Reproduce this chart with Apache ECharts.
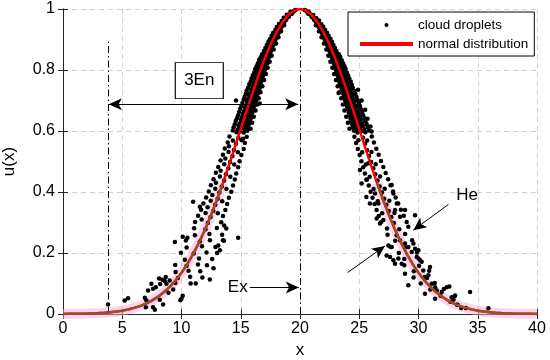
<!DOCTYPE html>
<html><head><meta charset="utf-8">
<script src="https://cdn.jsdelivr.net/npm/echarts@6/dist/echarts.min.js"></script>
<style>html,body{margin:0;padding:0;background:#fff}#c{width:550px;height:360px}</style>
</head><body><div id="c"></div>
<script>
const xTicks = [0,5,10,15,20,25,30,35,40];
const yTicks = [0,0.2,0.4,0.6,0.8,1];
const curveX = [0,0.5,1,1.5,2,2.5,3,3.5,4,4.5,5,5.5,6,6.5,7,7.5,8,8.5,9,9.5,10,10.5,11,11.5,12,12.5,13,13.5,14,14.5,15,15.5,16,16.5,17,17.5,18,18.5,19,19.5,20,
  20.5,21,21.5,22,22.5,23,23.5,24,24.5,25,25.5,26,26.5,27,27.5,28,28.5,29,29.5,30,30.5,31,31.5,32,32.5,33,33.5,34,34.5,35,35.5,36,36.5,37,37.5,38,38.5,39,39.5,40];
const curveY = [0.0003,0.0005,0.0007,0.0011,0.0015,0.0022,0.0031,0.0043,0.006,0.0082,0.011,0.015,0.020,0.026,0.034,0.044,0.056,0.071,0.089,0.110,0.135,0.164,0.198,0.236,0.278,0.325,0.375,0.430,0.487,0.546,0.607,0.667,0.726,0.783,0.835,0.882,0.923,0.956,0.980,0.995,1,
  0.995,0.980,0.956,0.923,0.882,0.835,0.783,0.726,0.667,0.607,0.546,0.487,0.430,0.375,0.325,0.278,0.236,0.198,0.164,0.135,0.110,0.089,0.071,0.056,0.044,0.034,0.026,0.020,0.015,0.011,0.0082,0.006,0.0043,0.0031,0.0022,0.0015,0.0011,0.0007,0.0005,0.0003];

const leftDroplets = [
[19.55,0.995],[19.47,0.993],[19.62,0.997],[19.36,0.99],[19.27,0.988],[19.2,0.991],
[19.12,0.982],[19.0,0.979],[18.88,0.981],[18.9,0.972],[18.78,0.969],[18.63,0.971],
[18.73,0.962],[18.55,0.958],[18.45,0.961],[18.58,0.952],[18.38,0.949],[18.22,0.951],
[18.44,0.942],[18.25,0.939],[18.05,0.941],[18.3,0.931],[18.12,0.928],[17.93,0.932],
[18.18,0.921],[17.95,0.919],[17.74,0.922],[18.04,0.911],[17.85,0.908],[17.6,0.912],
[17.95,0.902],[17.7,0.899],[17.45,0.901],[17.84,0.891],[17.58,0.888],[17.33,0.892],
[17.74,0.881],[17.48,0.879],[17.2,0.882],[17.6,0.871],[17.35,0.868],[17.08,0.872],
[17.53,0.861],[17.25,0.858],[16.95,0.862],
[17.5,0.851],[17.12,0.848],[16.8,0.852],[17.38,0.841],[17.06,0.838],[16.68,0.842],
[17.3,0.831],[16.94,0.829],[16.55,0.833],[17.25,0.821],[16.86,0.818],[16.45,0.822],
[17.12,0.811],[16.74,0.808],[16.34,0.812],[17.05,0.801],[16.68,0.798],[16.22,0.803],
[16.95,0.791],[16.55,0.789],[16.14,0.792],[16.88,0.781],[16.46,0.778],[16.02,0.783],
[16.84,0.771],[16.4,0.768],[15.92,0.773],[16.72,0.761],[16.28,0.758],[15.84,0.762],
[16.65,0.751],[16.2,0.748],[15.72,0.753],[16.6,0.741],[16.1,0.738],[15.62,0.742],
[16.5,0.731],[16.05,0.728],[15.5,0.733],[16.42,0.721],[15.96,0.718],[15.43,0.722],
[16.35,0.711],[15.84,0.708],[15.33,0.712],[16.3,0.701],[15.76,0.698],[15.25,0.703],
[16.2,0.691],[15.7,0.688],[15.14,0.692],[16.12,0.681],[15.62,0.678],[15.05,0.682],
[16.05,0.671],[15.5,0.668],[14.96,0.673],[15.98,0.661],[15.45,0.658],[14.86,0.662],
[15.9,0.651],[15.35,0.648],[14.78,0.652],[15.84,0.641],[15.27,0.638],[14.68,0.642],
[15.78,0.631],[15.2,0.628],[14.58,0.633],[15.68,0.621],[15.1,0.618],[14.5,0.622],
[15.62,0.611],[15.02,0.608],[14.4,0.612],[15.55,0.601],[14.94,0.598],[14.32,0.602],
[16.6,0.69],[14.6,0.7],
[19.33,0.985],[19.25,0.984],[19.06,0.975],[18.94,0.976],[18.84,0.965],[18.7,0.964],
[18.66,0.955],[18.48,0.956],[18.5,0.945],[18.3,0.944],[18.35,0.935],[18.13,0.936],
[18.21,0.925],[17.99,0.924],[18.08,0.915],[17.84,0.916],[17.96,0.905],[17.7,0.904],
[17.84,0.895],[17.56,0.896],[17.73,0.885],[17.45,0.884],[17.62,0.875],[17.32,0.876],
[17.52,0.865],[17.2,0.864],[17.42,0.855],[17.09,0.856],[17.32,0.845],[16.98,0.844],
[17.23,0.835],[16.87,0.836],[17.13,0.825],[16.77,0.824],[17.04,0.815],[16.66,0.816],
[16.95,0.805],[16.55,0.804],[16.86,0.795],[16.46,0.796],[16.78,0.785],[16.36,0.784],
[16.69,0.775],[16.27,0.776],[16.61,0.765],[16.17,0.764],[16.52,0.755],[16.08,0.756],
[16.44,0.745],[15.98,0.744],[16.35,0.735],[15.89,0.736],[16.27,0.725],[15.79,0.724],
[16.19,0.715],[15.71,0.716],[16.11,0.705],[15.61,0.704],[16.03,0.695],[15.53,0.696],
[15.95,0.685],[15.43,0.684],[15.87,0.675],[15.35,0.676],[15.8,0.665],[15.26,0.664],
[15.71,0.655],[15.17,0.656],[15.64,0.645],[15.08,0.644],[15.56,0.635],[15.0,0.636],
[15.48,0.625],[14.9,0.624],[15.4,0.615],[14.82,0.616],[15.33,0.605],[14.73,0.604],
[15.25,0.595],[14.65,0.596],
[18.66,0.947],[18.4,0.927],[18.18,0.907],[17.98,0.887],[17.78,0.867],[17.61,0.847],
[17.44,0.827],[17.27,0.807],[17.12,0.787],[16.97,0.767],[16.82,0.747],[16.67,0.727],
[16.52,0.707],[16.38,0.687],[16.25,0.667],[16.1,0.647],[15.96,0.627],[15.83,0.607],
[15.5,0.581],[14.8,0.578],[14.05,0.582],[15.2,0.575],[15.35,0.561],[14.6,0.558],[13.9,0.562],
[15.25,0.541],[14.42,0.538],[13.65,0.543],[14.0,0.55],[15.05,0.521],[14.3,0.518],[13.5,0.522],
[14.9,0.501],[14.1,0.498],[13.3,0.503],[13.7,0.51],[14.78,0.481],[13.95,0.478],[13.1,0.482],
[14.62,0.461],[13.75,0.458],[12.9,0.463],[13.3,0.47],[14.5,0.441],[13.6,0.438],[12.7,0.442],
[14.35,0.421],[13.4,0.418],[12.48,0.422],[12.9,0.43],[14.2,0.401],[13.2,0.398],[12.3,0.402],
[14.0,0.381],[13.05,0.378],[12.08,0.382],[12.6,0.39],[13.85,0.361],[12.85,0.358],[11.85,0.362],
[13.7,0.341],[12.68,0.338],[11.65,0.342],[12.2,0.35],[13.5,0.321],[12.45,0.318],[11.4,0.322],
[13.35,0.301],[12.22,0.298],[11.15,0.302],[11.7,0.31],
[15.07,0.57],[14.33,0.569],[14.76,0.53],[13.97,0.531],[14.45,0.49],[13.61,0.491],
[14.12,0.45],[13.24,0.451],[13.79,0.41],[12.85,0.411],[13.44,0.37],[12.46,0.371],
[13.07,0.33],[12.03,0.331],
[13.78,0.28],[12.98,0.282],[12.02,0.278],[11.06,0.281],[13.43,0.26],[12.36,0.262],[11.13,0.258],
[13.58,0.24],[12.4,0.242],[11.55,0.238],[10.37,0.241],[12.87,0.22],[11.73,0.222],[10.43,0.218],
[13.0,0.2],[12.11,0.202],[11.03,0.198],[9.95,0.201],[12.59,0.18],[11.48,0.182],[10.28,0.178],
[12.15,0.16],[11.39,0.162],[10.43,0.158],[9.47,0.161],[11.58,0.14],[10.59,0.142],[9.5,0.138],
[11.76,0.12],[10.73,0.122],[9.7,0.118],[8.67,0.121],[10.77,0.1],[9.48,0.102],[8.2,0.098],
[10.1,0.253],[10.5,0.25],[9.44,0.236],[10.98,0.368],[11.55,0.352],[14.78,0.25],[12.39,0.113],
[13.24,0.209],[13.1,0.225],[13.5,0.242],[9.0,0.11],[10.0,0.05],[10.1,0.06],[9.9,0.045],
[13.6,0.29],[12.7,0.15],[11.2,0.1],
[5.21,0.044],[5.49,0.052],[6.9,0.053],[7.04,0.044],[6.99,0.022],[7.6,0.022],[7.75,0.014],
[8.45,0.031],[8.17,0.047],[7.18,0.077],[7.6,0.083],[7.83,0.088],[7.46,0.099],[8.39,0.112],
[8.11,0.116],[8.59,0.108],[8.73,0.099],[3.8,0.031],[8.9,0.07],[9.3,0.08]
];

const rightDroplets = [
[20.45,0.996],[20.55,0.993],[20.38,0.997],[20.66,0.989],[20.74,0.991],[20.8,0.987],
[20.92,0.981],[21.02,0.978],[21.12,0.98],[21.1,0.971],[21.25,0.968],[21.38,0.97],
[21.3,0.961],[21.45,0.959],[21.6,0.962],[21.45,0.951],[21.62,0.948],[21.8,0.95],
[21.58,0.941],[21.78,0.939],[21.96,0.942],[21.72,0.931],[21.92,0.928],[22.12,0.932],
[21.85,0.921],[22.05,0.918],[22.28,0.922],[21.96,0.911],[22.2,0.908],[22.42,0.912],
[22.08,0.901],[22.32,0.898],[22.58,0.902],[22.18,0.891],[22.43,0.888],[22.7,0.892],
[22.3,0.881],[22.55,0.878],[22.82,0.882],[22.4,0.871],[22.66,0.868],[22.95,0.872],
[22.5,0.861],[22.78,0.858],[23.08,0.862],
[22.57,0.851],[22.93,0.848],[23.28,0.852],[22.68,0.841],[23.01,0.838],[23.4,0.843],
[22.74,0.831],[23.12,0.828],[23.52,0.832],[22.86,0.821],[23.2,0.818],[23.63,0.822],
[22.92,0.811],[23.33,0.808],[23.76,0.812],[23.03,0.801],[23.4,0.798],[23.85,0.803],
[23.08,0.791],[23.52,0.788],[23.95,0.792],[23.18,0.781],[23.58,0.778],[24.06,0.782],
[23.26,0.771],[23.7,0.768],[24.16,0.772],[23.32,0.761],[23.78,0.758],[24.28,0.762],
[23.42,0.751],[23.86,0.748],[24.37,0.752],[23.5,0.741],[23.97,0.738],[24.46,0.742],
[23.56,0.731],[24.06,0.728],[24.58,0.732],[23.66,0.721],[24.12,0.718],[24.67,0.722],
[23.72,0.711],[24.23,0.708],[24.77,0.712],[23.81,0.701],[24.3,0.698],[24.86,0.702],
[23.87,0.691],[24.41,0.688],[24.97,0.692],[23.96,0.681],[24.48,0.678],[25.06,0.682],
[24.01,0.671],[24.57,0.668],[25.13,0.672],[24.11,0.661],[24.64,0.658],[25.25,0.662],
[24.17,0.651],[24.74,0.648],[25.33,0.652],[24.26,0.641],[24.8,0.638],[25.44,0.642],
[24.32,0.631],[24.92,0.628],[25.52,0.632],[24.41,0.621],[24.98,0.618],[25.63,0.622],
[24.46,0.611],[25.08,0.608],[25.71,0.612],[24.56,0.601],[25.14,0.598],[25.82,0.602],
[24.9,0.735],[25.2,0.7],[25.5,0.67],[25.7,0.64],[25.95,0.615],[23.25,0.725],[26.05,0.598],
[20.68,0.985],[20.77,0.984],[20.97,0.975],[21.1,0.976],[21.18,0.965],[21.34,0.964],
[21.37,0.955],[21.56,0.956],[21.54,0.945],[21.74,0.944],[21.69,0.935],[21.92,0.936],
[21.82,0.925],[22.07,0.924],[21.96,0.915],[22.22,0.916],[22.08,0.905],[22.37,0.904],
[22.21,0.895],[22.51,0.896],[22.31,0.885],[22.63,0.884],[22.43,0.875],[22.76,0.876],
[22.53,0.865],[22.88,0.864],[22.64,0.855],[23.0,0.856],[22.74,0.845],[23.11,0.844],
[22.83,0.835],[23.22,0.836],[22.93,0.825],[23.32,0.824],[23.02,0.815],[23.43,0.816],
[23.12,0.805],[23.54,0.804],[23.21,0.795],[23.64,0.796],[23.29,0.785],[23.74,0.784],
[23.38,0.775],[23.84,0.776],[23.47,0.765],[23.93,0.764],[23.55,0.755],[24.03,0.756],
[23.64,0.745],[24.13,0.744],[23.72,0.735],[24.23,0.736],[23.81,0.725],[24.33,0.724],
[23.89,0.715],[24.41,0.716],[23.97,0.705],[24.51,0.704],[24.05,0.695],[24.6,0.696],
[24.14,0.685],[24.7,0.684],[24.21,0.675],[24.79,0.676],[24.29,0.665],[24.87,0.664],
[24.38,0.655],[24.97,0.656],[24.45,0.645],[25.06,0.644],[24.53,0.635],[25.15,0.636],
[24.62,0.625],[25.24,0.624],[24.69,0.615],[25.33,0.616],[24.77,0.605],[25.42,0.604],
[24.85,0.595],[25.51,0.596],
[21.34,0.947],[21.6,0.927],[21.82,0.907],[22.02,0.887],[22.22,0.867],[22.39,0.847],
[22.56,0.827],[22.73,0.807],[22.88,0.787],[23.03,0.767],[23.18,0.747],[23.33,0.727],
[23.48,0.707],[23.62,0.687],[23.75,0.667],[23.9,0.647],[24.04,0.627],[24.17,0.607],
[24.59,0.581],[25.32,0.578],[26.06,0.582],[24.73,0.561],[25.49,0.558],[26.24,0.562],
[24.88,0.541],[25.66,0.538],[26.44,0.542],[25.03,0.521],[25.83,0.518],[26.64,0.522],
[25.18,0.501],[26.01,0.498],[26.83,0.502],[25.33,0.481],[26.18,0.478],[27.03,0.482],
[25.48,0.461],[26.35,0.458],[27.23,0.462],[25.64,0.441],[26.54,0.438],[27.44,0.442],
[25.8,0.421],[26.72,0.418],[27.64,0.422],[25.96,0.401],[26.91,0.398],[27.85,0.402],
[26.12,0.381],[27.1,0.378],[28.07,0.382],[26.29,0.361],[27.29,0.358],[28.29,0.362],
[26.46,0.341],[27.49,0.338],[28.51,0.342],[26.64,0.321],[27.7,0.318],[28.76,0.322],
[26.83,0.301],[27.92,0.298],[29.0,0.302],
[24.93,0.57],[25.67,0.569],[25.24,0.53],[26.03,0.531],[25.55,0.49],[26.39,0.491],
[25.88,0.45],[26.76,0.451],[26.21,0.41],[27.15,0.411],[26.56,0.37],[27.54,0.371],
[26.93,0.33],[27.97,0.331],
[25.06,0.472],[25.77,0.494],[25.2,0.428],[25.6,0.44],[26.33,0.395],[26.61,0.362],[25.9,0.362],
[25.6,0.384],[26.47,0.313],[26.75,0.297],[27.03,0.308],[28.02,0.341],[28.16,0.362],[28.44,0.319],
[28.86,0.341],[29.71,0.324],[27.88,0.395],[27.74,0.423],
[27.46,0.225],[27.31,0.192],[27.6,0.187],[27.88,0.176],[28.02,0.165],[28.3,0.182],[28.58,0.165],
[28.86,0.132],[29.14,0.22],[28.86,0.231],[29.43,0.203],[29.57,0.231],[29.71,0.214],[29.99,0.209],
[29.85,0.187],[30.13,0.176],[30.27,0.171],[30.41,0.143],[30.97,0.154],[30.55,0.121],[30.83,0.127],
[31.12,0.099],[31.4,0.088],[31.54,0.077],[31.96,0.072],[32.38,0.088],[32.8,0.055],[33.09,0.061],
[32.95,0.047],[34.35,0.072],[29.14,0.094],[30.55,0.066],[31.4,0.05],[29.14,0.286],[28.44,0.242],
[28.16,0.258],[27.74,0.22],[33.3,0.03],[33.6,0.02],[35.9,0.019],[32.6,0.09],
[27.34,0.28],[28.38,0.278],[27.39,0.26],[28.87,0.262],[28.03,0.24],[29.46,0.242],[27.66,0.22],
[28.87,0.218],[28.34,0.2],[29.87,0.202],[28.8,0.18],[30.0,0.182],[28.8,0.16],[30.05,0.158],
[29.61,0.14],[30.9,0.142],[29.58,0.12],[30.71,0.118],[30.19,0.1],[31.37,0.102],[31.0,0.08],
[32.14,0.082],[31.86,0.06],[33.05,0.058],[32.69,0.04],[33.24,0.03],[33.99,0.02]
];

const FONT = 'Liberation Sans, Arial, Helvetica, sans-serif';
const AX = '#262626';
const LOW = 0.45;
const curveData = curveX.map((x, i) => [x, curveY[i]]);
const lowCurve = curveX.map((x, i) => curveY[i] < LOW ? [x, curveY[i]] : [x, '-']);

const chart = echarts.init(document.getElementById('c'), null, {renderer: 'canvas'});
const dashDot = [7, 3, 1.5, 3];
chart.setOption({
  animation: false,
  textStyle: {fontFamily: FONT},
  grid: {left: 63, right: 13, top: 9, bottom: 46, containLabel: false, outerBoundsMode: 'none'},
  legend: {
    left: 348, top: 12, orient: 'vertical',
    itemWidth: 53, itemHeight: 4, itemGap: 5,
    padding: [6, 6, 5, 12],
    borderColor: '#000', borderWidth: 1, backgroundColor: '#fff',
    textStyle: {fontSize: 13.5, color: '#000', fontFamily: FONT},
    data: [
      {name: 'cloud droplets', icon: 'circle', itemStyle: {color: '#000'}},
      {name: 'normal distribution', icon: 'rect', itemStyle: {color: '#ff0000'}}
    ]
  },
  xAxis: [{
    type: 'value', min: xTicks[0], max: xTicks[xTicks.length - 1], interval: xTicks[1] - xTicks[0],
    name: 'x', nameLocation: 'middle', nameGap: 27,
    nameTextStyle: {fontSize: 17, color: '#000', fontFamily: FONT},
    axisLine: {show: true, lineStyle: {color: AX, width: 1}},
    axisTick: {show: true, inside: true, length: 5, lineStyle: {color: AX}},
    axisLabel: {fontSize: 16, color: '#000', margin: 7, fontFamily: FONT},
    splitLine: {show: true, lineStyle: {color: '#d2d2d2', type: [5, 4], width: 1}}
  }, {
    type: 'value', position: 'top', min: xTicks[0], max: xTicks[xTicks.length - 1], interval: xTicks[1] - xTicks[0],
    axisLine: {show: true, lineStyle: {color: AX, width: 1}},
    axisTick: {show: true, inside: true, length: 5, lineStyle: {color: AX}},
    axisLabel: {show: false}, splitLine: {show: false}
  }],
  yAxis: [{
    type: 'value', min: yTicks[0], max: yTicks[yTicks.length - 1], interval: yTicks[1] - yTicks[0],
    name: 'u(x)', nameLocation: 'middle', nameGap: 45,
    nameTextStyle: {fontSize: 17, color: '#000', fontFamily: FONT},
    axisLine: {show: true, lineStyle: {color: AX, width: 1}},
    axisTick: {show: true, inside: true, length: 5, lineStyle: {color: AX}},
    axisLabel: {fontSize: 16, color: '#000', margin: 8, fontFamily: FONT},
    splitLine: {show: true, lineStyle: {color: '#d2d2d2', type: [5, 4], width: 1}}
  }, {
    type: 'value', position: 'right', min: yTicks[0], max: yTicks[yTicks.length - 1], interval: yTicks[1] - yTicks[0],
    axisLine: {show: true, lineStyle: {color: AX, width: 1}},
    axisTick: {show: true, inside: true, length: 5, lineStyle: {color: AX}},
    axisLabel: {show: false}, splitLine: {show: false}
  }],
  series: [
    {
      name: 'haze', type: 'line', data: lowCurve, smooth: false, showSymbol: false, silent: true,
      connectNulls: false, lineStyle: {width: 10, color: 'rgba(248,170,228,0.5)'}, z: 1
    },
    {
      name: 'cloud droplets', type: 'scatter', data: leftDroplets.concat(rightDroplets),
      symbol: 'circle', symbolSize: 4.5, itemStyle: {color: '#000', opacity: 1}, z: 3, silent: true,
      markLine: {
        silent: true, animation: false, symbolSize: [9, 13],
        label: {show: false},
        lineStyle: {color: '#000', width: 1, type: 'solid'},
        emphasis: {disabled: true},
        data: [
          [{coord: [3.85, 0], symbol: 'none', lineStyle: {type: dashDot, color: '#000', width: 1}}, {coord: [3.85, 0.9], symbol: 'none'}],
          [{coord: [20, 0], symbol: 'none', lineStyle: {type: dashDot, color: '#000', width: 1}}, {coord: [20, 1], symbol: 'none'}],
          [{coord: [3.87, 0.688], symbol: 'arrow'}, {coord: [19.85, 0.688], symbol: 'arrow'}],
          [{coord: [15.77, 0.087], symbol: 'none'}, {coord: [19.9, 0.087], symbol: 'arrow'}],
          [{coord: [32.52, 0.359], symbol: 'none'}, {coord: [29.56, 0.275], symbol: 'arrow'}],
          [{coord: [24.02, 0.136], symbol: 'none'}, {coord: [27.17, 0.223], symbol: 'arrow'}]
        ]
      },
      markPoint: {
        silent: true, animation: false,
        data: [
          {coord: [11.5, 0.765], symbol: 'rect', symbolSize: [48, 36],
           itemStyle: {color: '#fff', borderColor: '#000', borderWidth: 1},
           label: {show: true, position: 'inside', formatter: '3En', fontSize: 17, color: '#000', fontFamily: FONT}},
          {coord: [14.75, 0.087], symbol: 'circle', symbolSize: 1, itemStyle: {color: 'rgba(0,0,0,0)'},
           label: {show: true, position: 'inside', formatter: 'Ex', fontSize: 17, color: '#000', fontFamily: FONT}},
          {coord: [34.1, 0.39], symbol: 'circle', symbolSize: 1, itemStyle: {color: 'rgba(0,0,0,0)'},
           label: {show: true, position: 'inside', formatter: 'He', fontSize: 17, color: '#000', fontFamily: FONT}}
        ]
      }
    },
    {
      name: 'normal distribution', type: 'line', data: curveData, smooth: false, showSymbol: false, silent: true,
      lineStyle: {width: 2.5, color: '#ff0000'}, itemStyle: {color: '#ff0000'}, z: 4
    },
    {
      name: 'curve low', type: 'line', data: lowCurve, smooth: false, showSymbol: false, silent: true,
      connectNulls: false, lineStyle: {width: 2.5, color: '#9a4f1e'}, z: 5
    }
  ]
});
</script>
</body></html>
